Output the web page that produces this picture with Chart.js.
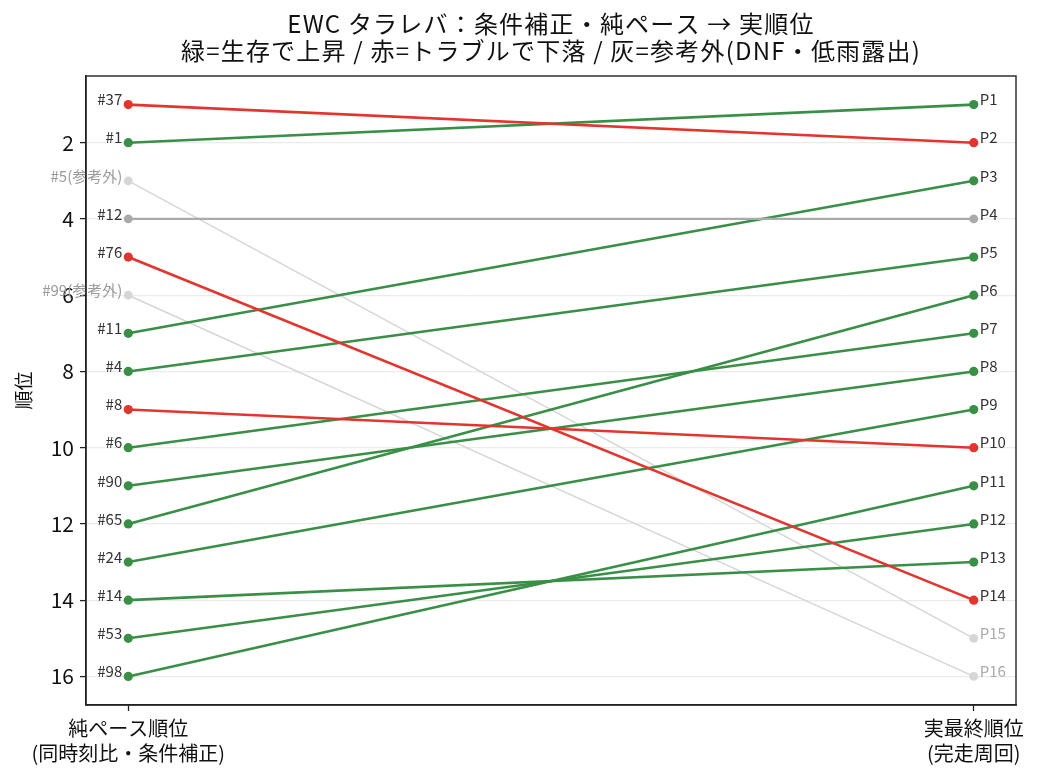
<!DOCTYPE html>
<html>
<head>
<meta charset="utf-8">
<script src="https://cdn.jsdelivr.net/npm/chart.js@4"></script>
<style>
  body { margin: 0; background: #fff; }
</style>
</head>
<body>
<canvas id="chart" width="1040" height="779"></canvas>
<script>
// データ
const carNumbers = ['#37', '#1', '#5', '#12', '#76', '#99', '#11', '#4', '#8', '#6', '#90', '#65', '#24', '#14', '#53', '#98'];
const paceRank = [1, 2, 3, 4, 5, 6, 7, 8, 9, 10, 11, 12, 13, 14, 15, 16];
const finalRank = [2, 1, 15, 4, 14, 16, 3, 5, 10, 7, 8, 6, 9, 13, 12, 11];
// up=生存で上昇, down=トラブルで下落, flat=変化なし, ref=参考外
const groups = ['down', 'up', 'ref', 'flat', 'down', 'ref', 'up', 'up', 'down', 'up', 'up', 'up', 'up', 'up', 'up', 'up'];
const xLabels = [['純ペース順位', '(同時刻比・条件補正)'], ['実最終順位', '(完走周回)']];
const yTicks = [2, 4, 6, 8, 10, 12, 14, 16];
const titleLines = ['EWC タラレバ：条件補正・純ペース → 実順位', '緑=生存で上昇 / 赤=トラブルで下落 / 灰=参考外(DNF・低雨露出)'];

const FONT = '"Noto Sans CJK JP", "Noto Sans", sans-serif';

const styles = {
    up:   { color: '#3a8f47', width: 2.6, radius: 4.6, label: '#333' },
    down: { color: '#e3352d', width: 2.6, radius: 4.6, label: '#333' },
    flat: { color: '#aaaaaa', width: 2.2, radius: 4.4, label: '#333' },
    ref:  { color: '#d6d6d6', width: 1.5, radius: 4.4, label: '#999' }
};

const datasets = carNumbers.map((car, i) => {
    const st = styles[groups[i]];
    return {
        label: car,
        data: [{ x: 0, y: paceRank[i] }, { x: 1, y: finalRank[i] }],
        showLine: true,
        borderColor: st.color,
        backgroundColor: st.color,
        borderWidth: st.width,
        pointRadius: st.radius,
        pointBorderWidth: 0,
        order: groups[i] === 'ref' ? 2 : 1
    };
});

// タイトル・枠・ラベル
const decorations = {
    id: 'decorations',
    beforeDraw(chart) {
        const ctx = chart.ctx;
        const area = chart.chartArea;
        const cx = (area.left + area.right) / 2;
        ctx.save();
        ctx.fillStyle = '#111';
        ctx.font = '24px ' + FONT;
        ctx.letterSpacing = '1.2px';
        ctx.textAlign = 'center';
        ctx.textBaseline = 'middle';
        ctx.fillText(titleLines[0], cx, 24);
        ctx.fillText(titleLines[1], cx, 51);
        ctx.restore();
    },
    afterDatasetsDraw(chart) {
        const ctx = chart.ctx;
        ctx.save();
        ctx.font = '15px ' + FONT;
        ctx.textBaseline = 'middle';
        carNumbers.forEach((car, i) => {
            const meta = chart.getDatasetMeta(i);
            const p0 = meta.data[0];
            const p1 = meta.data[1];
            const st = styles[groups[i]];
            ctx.fillStyle = st.label;
            ctx.textAlign = 'right';
            const leftText = groups[i] === 'ref' ? car + '(参考外)' : car;
            ctx.fillText(leftText, p0.x - 6, p0.y - 5);
            ctx.textAlign = 'left';
            ctx.fillStyle = groups[i] === 'ref' ? '#aaa' : '#333';
            ctx.fillText('P' + finalRank[i], p1.x + 6, p1.y - 5);
        });
        ctx.restore();
    },
    afterDraw(chart) {
        const ctx = chart.ctx;
        const a = chart.chartArea;
        ctx.save();
        ctx.strokeStyle = '#222';
        ctx.lineWidth = 1.4;
        ctx.strokeRect(a.left, a.top, a.right - a.left, a.bottom - a.top);
        ctx.restore();
    }
};

new Chart(document.getElementById('chart'), {
    type: 'scatter',
    data: { datasets: datasets },
    options: {
        responsive: false,
        animation: false,
        layout: { padding: { top: 76, right: 24, left: 0, bottom: 0 } },
        plugins: {
            legend: { display: false },
            tooltip: { enabled: false }
        },
        scales: {
            x: {
                type: 'linear',
                min: -0.05,
                max: 1.05,
                afterBuildTicks: scale => { scale.ticks = [{ value: 0 }, { value: 1 }]; },
                afterFit: scale => { scale.height = 74; },
                ticks: {
                    autoSkip: false,
                    maxRotation: 0,
                    padding: 5,
                    color: '#111',
                    font: { family: FONT, size: 20, lineHeight: 1.25 },
                    callback: v => xLabels[v]
                },
                grid: { drawOnChartArea: false, tickLength: 6, tickColor: '#222', tickWidth: 1.3 },
                border: { color: '#222', width: 1.4 }
            },
            y: {
                reverse: true,
                min: 0.25,
                max: 16.75,
                afterBuildTicks: scale => { scale.ticks = yTicks.map(v => ({ value: v })); },
                afterFit: scale => { scale.width = 86; },
                ticks: {
                    padding: 6,
                    color: '#111',
                    font: { family: FONT, size: 21 }
                },
                grid: { color: '#ebebeb', lineWidth: 1.2, tickLength: 6, tickColor: '#222', tickWidth: 1.3 },
                border: { color: '#222', width: 1.4 },
                title: {
                    display: true,
                    text: '順位',
                    color: '#111',
                    font: { family: FONT, size: 19 },
                    padding: { top: 12, bottom: 0 }
                }
            }
        }
    },
    plugins: [decorations]
});
</script>
</body>
</html>
